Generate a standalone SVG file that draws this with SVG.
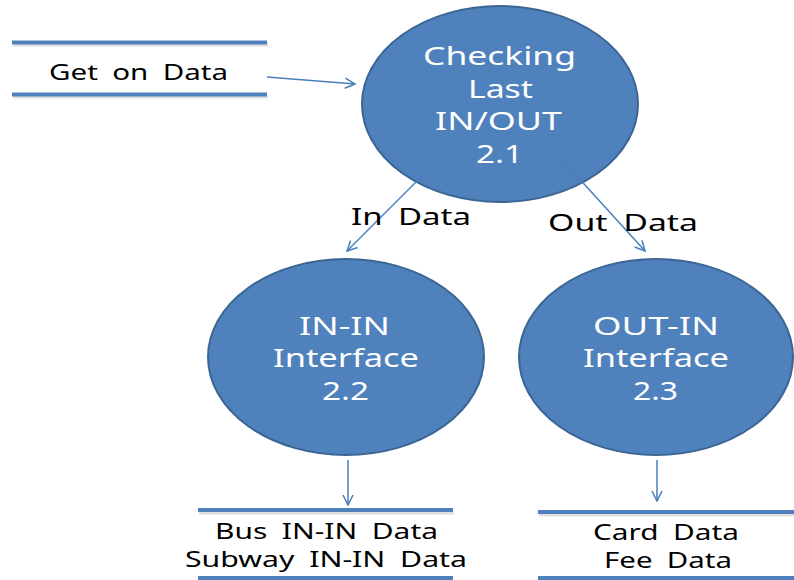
<svg xmlns="http://www.w3.org/2000/svg" width="794" height="580" viewBox="0 0 794 580">
<style>
.proc{fill:#4f81bd;stroke:#3b6592;stroke-width:2}
.wt{font-family:"Noto Sans","Open Sans","DejaVu Sans",sans-serif;font-size:25px;fill:#ffffff;text-anchor:middle}
.bt{font-family:"Noto Sans","Open Sans","DejaVu Sans",sans-serif;font-size:22px;fill:#000000;text-anchor:middle;word-spacing:5px}
.store{stroke:#4f81bd;stroke-width:4;fill:none}
.shadow{stroke:#000;stroke-opacity:0.12;stroke-width:3;fill:none}
.conn{stroke:#4a7ebb;stroke-width:1.5;fill:none;marker-end:url(#arr)}
</style>
<defs>
<marker id="arr" viewBox="0 0 12 12" refX="11" refY="6" markerWidth="12" markerHeight="12" markerUnits="userSpaceOnUse" orient="auto">
<path d="M1,1 L11,6 L1,11" fill="none" stroke="#4a7ebb" stroke-width="1.5"/>
</marker>
</defs>
<rect width="794" height="580" fill="#ffffff"/>
<g id="store-get-on">
<line class="shadow" x1="13" y1="45" x2="268" y2="45"/>
<line class="shadow" x1="13" y1="97" x2="268" y2="97"/>
<line class="store" x1="12" y1="42.5" x2="267" y2="42.5"/>
<line class="store" x1="12" y1="94.5" x2="267" y2="94.5"/>
<text class="bt" x="138.5" y="80" textLength="179" lengthAdjust="spacingAndGlyphs">Get on Data</text>
</g>
<g id="node-2-1">
<ellipse class="proc" cx="500" cy="104" rx="138" ry="98"/>
<text class="wt" x="499.5" y="65" textLength="153" lengthAdjust="spacingAndGlyphs">Checking</text>
<text class="wt" x="500.5" y="98" textLength="65" lengthAdjust="spacingAndGlyphs">Last</text>
<text class="wt" x="498.5" y="130" textLength="127" lengthAdjust="spacingAndGlyphs">IN/OUT</text>
<text class="wt" x="499.5" y="163" textLength="47" lengthAdjust="spacingAndGlyphs">2.1</text>
</g>
<g id="node-2-2">
<ellipse class="proc" cx="346" cy="357" rx="138" ry="98"/>
<text class="wt" x="344.5" y="335" textLength="91" lengthAdjust="spacingAndGlyphs">IN-IN</text>
<text class="wt" x="346" y="367" textLength="146" lengthAdjust="spacingAndGlyphs">Interface</text>
<text class="wt" x="345.5" y="400" textLength="47" lengthAdjust="spacingAndGlyphs">2.2</text>
</g>
<g id="node-2-3">
<ellipse class="proc" cx="656" cy="357" rx="137" ry="98"/>
<text class="wt" x="656" y="335" textLength="126" lengthAdjust="spacingAndGlyphs">OUT-IN</text>
<text class="wt" x="656" y="367" textLength="146" lengthAdjust="spacingAndGlyphs">Interface</text>
<text class="wt" x="655.5" y="400" textLength="45" lengthAdjust="spacingAndGlyphs">2.3</text>
</g>
<g id="store-bus">
<line class="shadow" x1="199" y1="513" x2="454" y2="513"/>
<line class="store" x1="198" y1="510" x2="453" y2="510"/>
<line class="store" x1="198" y1="578" x2="453" y2="578"/>
<text class="bt" x="326.5" y="539" textLength="223" lengthAdjust="spacingAndGlyphs">Bus IN-IN Data</text>
<text class="bt" x="326" y="567" textLength="282" lengthAdjust="spacingAndGlyphs">Subway IN-IN Data</text>
</g>
<g id="store-card">
<line class="shadow" x1="539" y1="515" x2="794" y2="515"/>
<line class="store" x1="538" y1="512" x2="794" y2="512"/>
<line class="store" x1="538" y1="578" x2="794" y2="578"/>
<text class="bt" x="666" y="540" textLength="146" lengthAdjust="spacingAndGlyphs">Card Data</text>
<text class="bt" x="668" y="568" textLength="128" lengthAdjust="spacingAndGlyphs">Fee Data</text>
</g>
<g id="connectors">
<line class="conn" x1="267" y1="77" x2="355" y2="84"/>
<line class="conn" x1="440" y1="158" x2="347" y2="251"/>
<line class="conn" x1="555" y1="152" x2="645" y2="251"/>
<line class="conn" x1="348" y1="460" x2="348" y2="505"/>
<line class="conn" x1="657" y1="460" x2="657" y2="501"/>
</g>
<g id="labels">
<text class="bt" x="411" y="225" textLength="120" lengthAdjust="spacingAndGlyphs" style="font-size:24px">In Data</text>
<text class="bt" x="623" y="231" textLength="150" lengthAdjust="spacingAndGlyphs" style="font-size:24px">Out Data</text>
</g>
</svg>
